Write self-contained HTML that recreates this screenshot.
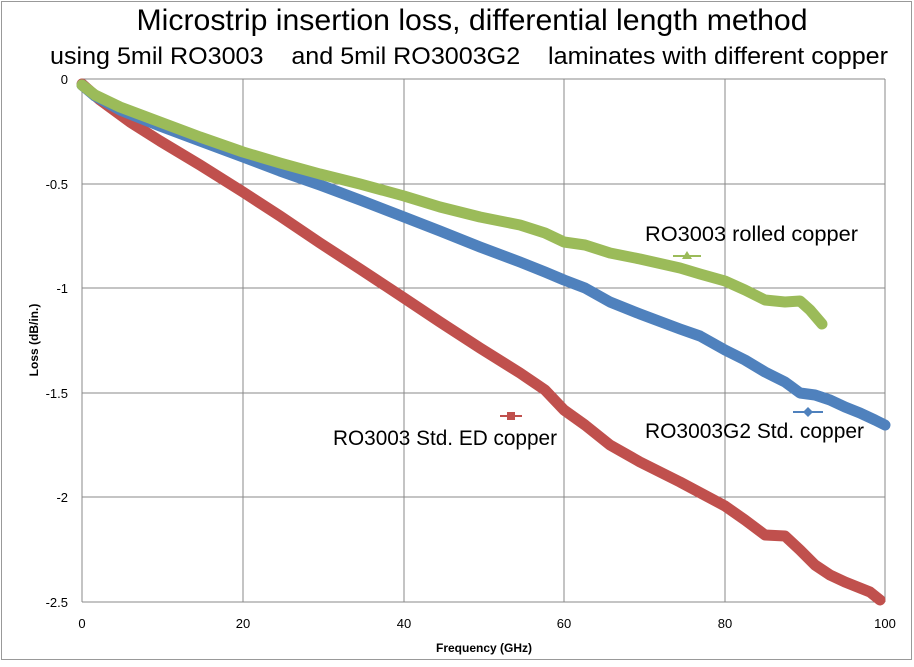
<!DOCTYPE html>
<html><head><meta charset="utf-8"><style>
body{margin:0;background:#fff;}
svg text{font-family:"Liberation Sans",sans-serif;}
</style></head><body>
<svg width="914" height="662" viewBox="0 0 914 662" xmlns="http://www.w3.org/2000/svg">
<rect x="0" y="0" width="914" height="662" fill="#fff"/>
<rect x="1.5" y="1.5" width="910" height="658" fill="none" stroke="#999" stroke-width="1"/>
<g stroke="#888" stroke-width="1">
<line x1="82" y1="79" x2="885" y2="79"/>
<line x1="82" y1="184" x2="885" y2="184"/>
<line x1="82" y1="288" x2="885" y2="288"/>
<line x1="82" y1="393" x2="885" y2="393"/>
<line x1="82" y1="497" x2="885" y2="497"/>
<line x1="82" y1="602" x2="885" y2="602"/>
<line x1="82" y1="79" x2="82" y2="602"/>
<line x1="243" y1="79" x2="243" y2="602"/>
<line x1="404" y1="79" x2="404" y2="602"/>
<line x1="564" y1="79" x2="564" y2="602"/>
<line x1="725" y1="79" x2="725" y2="602"/>
<line x1="885" y1="79" x2="885" y2="602"/>
</g>
<g font-size="13" fill="#000" text-anchor="end">
<text x="68" y="84">0</text>
<text x="68" y="189">-0.5</text>
<text x="68" y="293">-1</text>
<text x="68" y="398">-1.5</text>
<text x="68" y="502">-2</text>
<text x="68" y="607">-2.5</text>
</g>
<g font-size="13" fill="#000" text-anchor="middle">
<text x="82" y="628">0</text>
<text x="243" y="628">20</text>
<text x="404" y="628">40</text>
<text x="564" y="628">60</text>
<text x="725" y="628">80</text>
<text x="885" y="628">100</text>
</g>
<text x="484" y="652" font-size="12" font-weight="bold" text-anchor="middle">Frequency (GHz)</text>
<text transform="translate(38,340) rotate(-90)" font-size="12" font-weight="bold" text-anchor="middle">Loss (dB/in.)</text>
<text x="472" y="30" font-size="30" text-anchor="middle" textLength="671" lengthAdjust="spacingAndGlyphs">Microstrip insertion loss, differential length method</text>
<text x="469" y="64" font-size="24" text-anchor="middle" xml:space="preserve" textLength="838" lengthAdjust="spacingAndGlyphs">using 5mil RO3003    and 5mil RO3003G2    laminates with different copper</text>
<g fill="none" stroke-width="11" stroke-linejoin="round" stroke-linecap="round">
<polyline stroke="#c0504d" points="82,84 100,100 130,122 160,141 200,165 243,192 280,216 320,243 360,269 404,298 440,322 480,348 520,373 545,390 564,410 585,425 610,445 640,462 680,482 725,506 745,520 765,535 785,536 800,550 815,565 830,575 845,582 860,588 870,592 880,600"/>
<polyline stroke="#4f81bd" points="82,85 95,96 120,110 160,126 200,141 243,157 280,171 320,185 360,200 404,217 440,231 480,247 520,262 545,272 564,280 585,288 610,302 640,314 680,329 700,336 725,350 745,360 765,372 785,382 800,393 815,395 830,400 845,407 860,413 875,420 885,425"/>
<polyline stroke="#9bbb59" points="82,85 95,95 120,107 160,122 200,137 243,152 280,163 320,174 360,184 404,196 440,207 480,217 520,225 545,233 564,242 585,245 610,253 640,259 680,268 700,274 725,281 745,290 765,300 785,302 800,301 810,310 822,324"/>
</g>
<g stroke-width="2">
<line x1="500" y1="416" x2="522" y2="416" stroke="#c0504d"/>
<rect x="507" y="412" width="8" height="8" fill="#c0504d"/>
<line x1="793" y1="412" x2="823" y2="412" stroke="#4f81bd"/>
<polygon points="808,407 813,412 808,417 803,412" fill="#4f81bd"/>
<line x1="673" y1="256" x2="701" y2="256" stroke="#9bbb59"/>
<polygon points="687,251 692,259 682,259" fill="#9bbb59"/>
</g>
<g font-size="21" fill="#000">
<text x="645" y="241" textLength="213" lengthAdjust="spacingAndGlyphs">RO3003 rolled copper</text>
<text x="645" y="438" textLength="219" lengthAdjust="spacingAndGlyphs">RO3003G2 Std. copper</text>
<text x="333" y="445" textLength="224" lengthAdjust="spacingAndGlyphs">RO3003 Std. ED copper</text>
</g>
</svg>
</body></html>
